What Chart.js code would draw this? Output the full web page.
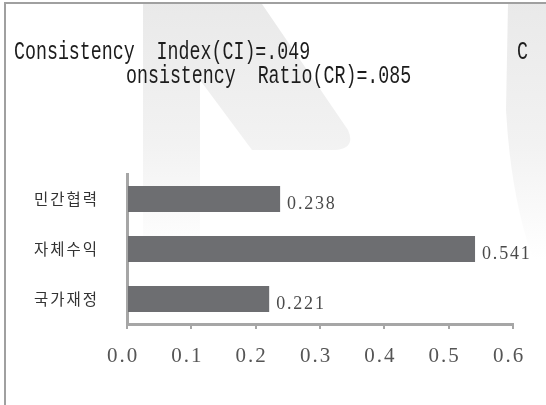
<!DOCTYPE html>
<html>
<head>
<meta charset="utf-8">
<script src="https://cdn.jsdelivr.net/npm/chart.js@4/dist/chart.umd.min.js"></script>
<style>
  html, body { margin: 0; padding: 0; background: #fff; }
  #wrap { position: relative; width: 546px; height: 405px; overflow: hidden; }
  #mark { position: absolute; left: 0; top: 0; }
  #frame { position: absolute; left: 4px; top: 2px; right: -4px; bottom: -4px;
           border-left: 2px solid #a0a0a0; border-top: 2px solid #a0a0a0; }
  #chart { position: absolute; left: 0; top: 0; }
  .ttl { position: absolute; font-family: "Liberation Mono", monospace; font-size: 18.3px;
         line-height: 1; color: #1c1c1c; white-space: pre; transform: scaleY(1.4);
         transform-origin: 0 0; }
</style>
</head>
<body>
<div id="wrap">
  <svg id="mark" width="546" height="405">
    <defs>
      <linearGradient id="fade" x1="0" y1="0" x2="0" y2="260" gradientUnits="userSpaceOnUse">
        <stop offset="0" stop-color="#e9e9e9"/>
        <stop offset="0.55" stop-color="#f2f2f2"/>
        <stop offset="1" stop-color="#ffffff"/>
      </linearGradient>
    </defs>
    <path d="M143 4 L262 4 L348 130 Q356 148 336 150 L252 150 L200 80 L200 240 L143 240 Z" fill="url(#fade)"/>
    <path d="M508 4 L546 4 L546 290 Q512 220 506 110 Z" fill="url(#fade)"/>
  </svg>
  <div id="frame"></div>
  <canvas id="chart" width="546" height="405"></canvas>
  <div class="ttl" id="t1" style="left:14px; top:39px;"></div>
  <div class="ttl" id="t1b" style="left:517px; top:39px;"></div>
  <div class="ttl" id="t2" style="left:126px; top:63px;"></div>
</div>
<script>
// AHP weights chart
const categories = ['민간협력', '자체수익', '국가재정'];
const weights = [0.238, 0.541, 0.221];
const xTicks = [0.0, 0.1, 0.2, 0.3, 0.4, 0.5, 0.6];
const titleLines = ['Consistency  Index(CI)=.049', 'C', 'onsistency  Ratio(CR)=.085'];

const axisGray = '#a6a6a6';
const barGray = '#6d6e71';

document.getElementById('t1').textContent = titleLines[0];
document.getElementById('t1b').textContent = titleLines[1];
document.getElementById('t2').textContent = titleLines[2];

const spacing = {
    id: 'spacing',
    beforeDraw(chart) { chart.ctx.letterSpacing = '2px'; }
};

const valueLabels = {
    id: 'valueLabels',
    afterDatasetsDraw(chart) {
        const ctx = chart.ctx;
        const meta = chart.getDatasetMeta(0);
        ctx.save();
        ctx.letterSpacing = '1.8px';
        ctx.font = '18px "Liberation Serif", serif';
        ctx.fillStyle = '#4a4a4a';
        ctx.textAlign = 'left';
        ctx.textBaseline = 'alphabetic';
        meta.data.forEach((bar, i) => {
            ctx.fillText(weights[i].toFixed(3), bar.x + 7, bar.y + 10);
        });
        ctx.restore();
    }
};

new Chart(document.getElementById('chart'), {
    type: 'bar',
    data: {
        labels: categories,
        datasets: [{
            data: weights,
            backgroundColor: barGray,
            borderWidth: 0,
            barPercentage: 0.52,
            categoryPercentage: 1
        }]
    },
    options: {
        indexAxis: 'y',
        responsive: false,
        animation: false,
        devicePixelRatio: 1,
        layout: { padding: { left: 0, top: 174, right: 33, bottom: 31 } },
        plugins: { legend: { display: false }, tooltip: { enabled: false } },
        scales: {
            x: {
                min: xTicks[0],
                max: xTicks[xTicks.length - 1],
                afterBuildTicks(scale) { scale.ticks = xTicks.map(v => ({ value: v })); },
                afterFit(scale) { scale.height = 50; },
                ticks: {
                    callback: v => Number(v).toFixed(1),
                    color: '#555',
                    font: { family: '"Liberation Serif", serif', size: 21 },
                    padding: 15,
                    labelOffset: -4,
                    maxRotation: 0
                },
                grid: { drawOnChartArea: false, drawTicks: true, tickLength: 5, color: axisGray, lineWidth: 2 },
                border: { color: axisGray, width: 3 }
            },
            y: {
                afterFit(scale) { scale.width = 127; },
                ticks: {
                    color: '#333',
                    font: { family: '"Noto Sans CJK KR", sans-serif', size: 15.5 },
                    padding: 20
                },
                grid: { display: false },
                border: { color: axisGray, width: 3 }
            }
        }
    },
    plugins: [spacing, valueLabels]
});
</script>
</body>
</html>
